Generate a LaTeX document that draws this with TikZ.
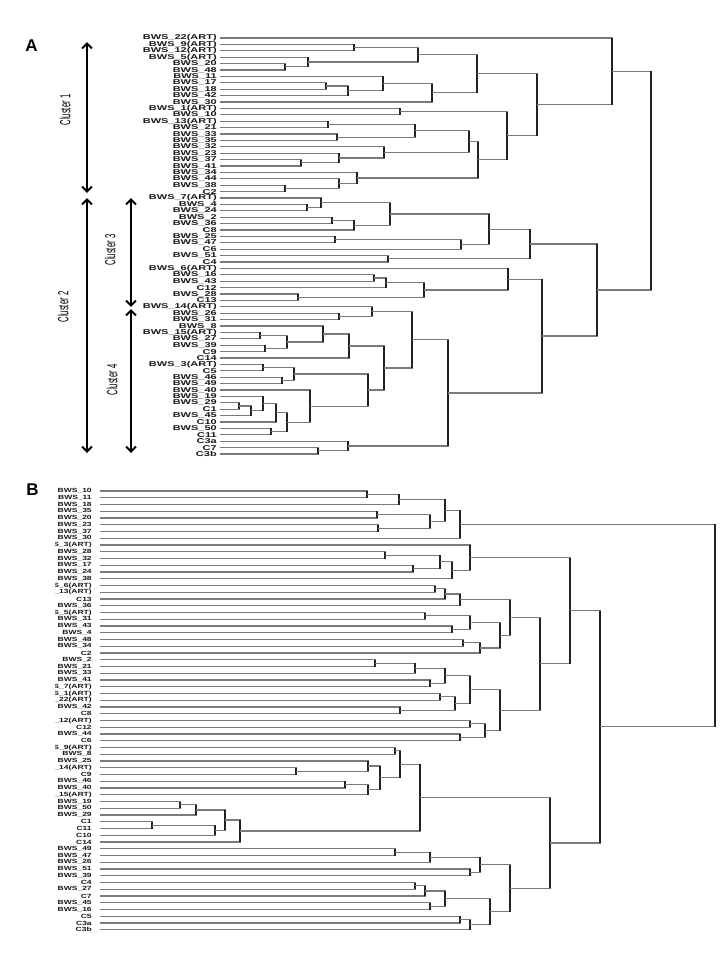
\documentclass[tikz,border=0pt]{standalone}
\usepackage{fontspec}
\setmainfont{Liberation Sans}
\usetikzlibrary{arrows.meta, calc}
\definecolor{dendLine}{HTML}{7A7A7A}
\definecolor{dendJoin}{HTML}{222222}
\tikzset{
  dendfig/.style={x=0.75pt, y=-0.75pt},
  link/.style={draw=dendLine, line width=0.9pt},
  joint/.style={draw=dendJoin, line width=0.9pt},
  leafA/.style={anchor=east, inner sep=0pt, text=black!90,
    font=\fontsize{5.25}{5.25}\selectfont\bfseries},
  leafB/.style={leafA, font=\fontsize{4.5}{4.5}\selectfont\bfseries},
  clarrow/.style={line width=1.5pt,
    {Straight Barb[length=3.8pt, width=7.5pt]}-{Straight Barb[length=3.8pt, width=7.5pt]}},
  cltext/.style={rotate=90, inner sep=0pt, font=\fontsize{5.8}{5.8}\selectfont},
  panel/.style={inner sep=0pt, font=\fontsize{12.75}{12.75}\selectfont\bfseries},
}
% one join of the tree: name, height (px), two children
\newcommand{\merge}[4]{%
  \path let \p1=(#3), \p2=(#4) in coordinate (#1) at ({#2*0.75pt}, {0.5*(\y1+\y2)});
  \draw[link] (#3) -| (#1) |- (#4);
  \draw[joint] (#3 -| #1) -- (#4 -| #1);
}

\begin{document}
\begin{tikzpicture}[dendfig]
  \useasboundingbox[fill=white] (0,0) rectangle (720,960);

  % panel A
  \node[panel] (PanelA) at (31.5,46) {A};
  \foreach \txt [count=\i] in {BWS\_22(ART), BWS\_9(ART), BWS\_12(ART), BWS\_5(ART),
      BWS\_20, BWS\_48, BWS\_11, BWS\_17, BWS\_18, BWS\_42, BWS\_30, BWS\_1(ART),
      BWS\_10, BWS\_13(ART), BWS\_21, BWS\_33, BWS\_35, BWS\_32, BWS\_23, BWS\_37,
      BWS\_41, BWS\_34, BWS\_44, BWS\_38, C2, BWS\_7(ART), BWS\_4, BWS\_24, BWS\_2,
      BWS\_36, C8, BWS\_25, BWS\_47, C6, BWS\_51, C4, BWS\_6(ART), BWS\_16, BWS\_43,
      C12, BWS\_28, C13, BWS\_14(ART), BWS\_26, BWS\_31, BWS\_8, BWS\_15(ART),
      BWS\_27, BWS\_39, C9, C14, BWS\_3(ART), C5, BWS\_46, BWS\_49, BWS\_40, BWS\_19,
      BWS\_29, C1, BWS\_45, C10, BWS\_50, C11, C3a, C7, C3b} {
    \coordinate (a\i) at (220, {38+6.4*(\i-1)});
    \node[leafA] (la\i) at (217, {38+6.4*(\i-1)}) {\scalebox{1.57}[1]{\txt}};
  }

  % cluster 1
  \merge{aA}{354}{a2}{a3}
  \merge{aB}{285}{a5}{a6}
  \merge{aC}{308}{a4}{aB}
  \merge{aD}{418}{aA}{aC}
  \merge{aE}{326}{a8}{a9}
  \merge{aF}{348}{aE}{a10}
  \merge{aG}{383}{a7}{aF}
  \merge{aH}{432}{aG}{a11}
  \merge{aI}{477}{aD}{aH}
  \merge{aJ}{400}{a12}{a13}
  \merge{aK}{328}{a14}{a15}
  \merge{aL}{337}{a16}{a17}
  \merge{aM}{415}{aK}{aL}
  \merge{aN}{301}{a20}{a21}
  \merge{aO}{339}{a19}{aN}
  \merge{aP}{384}{a18}{aO}
  \merge{aQ}{469}{aM}{aP}
  \merge{aR}{285}{a24}{a25}
  \merge{aS}{339}{a23}{aR}
  \merge{aT}{357}{a22}{aS}
  \merge{aU}{478}{aQ}{aT}
  \merge{aV}{507}{aJ}{aU}
  \merge{aW}{537}{aI}{aV}
  \merge{aX}{612}{a1}{aW}
  % cluster 2
  \merge{b1}{307}{a27}{a28}
  \merge{b2}{321}{a26}{b1}
  \merge{b3}{332}{a29}{a30}
  \merge{b4}{354}{b3}{a31}
  \merge{b5}{390}{b2}{b4}
  \merge{b6}{335}{a32}{a33}
  \merge{b7}{461}{b6}{a34}
  \merge{b8}{489}{b5}{b7}
  \merge{b9}{388}{a35}{a36}
  \merge{b10}{530}{b8}{b9}
  \merge{b11}{374}{a38}{a39}
  \merge{b12}{386}{b11}{a40}
  \merge{b13}{298}{a41}{a42}
  \merge{b14}{424}{b12}{b13}
  \merge{b15}{508}{a37}{b14}
  \merge{b16}{339}{a44}{a45}
  \merge{b17}{372}{a43}{b16}
  \merge{b18}{260}{a47}{a48}
  \merge{b19}{265}{a49}{a50}
  \merge{b20}{287}{b18}{b19}
  \merge{b21}{323}{a46}{b20}
  \merge{b22}{349}{b21}{a51}
  \merge{b23}{263}{a52}{a53}
  \merge{b24}{282}{a54}{a55}
  \merge{b25}{294}{b23}{b24}
  \merge{b26}{239}{a58}{a59}
  \merge{b27}{251}{b26}{a60}
  \merge{b28}{263}{a57}{b27}
  \merge{b29}{276}{b28}{a61}
  \merge{b30}{271}{a62}{a63}
  \merge{b31}{287}{b29}{b30}
  \merge{b32}{310}{a56}{b31}
  \merge{b33}{368}{b25}{b32}
  \merge{b34}{384}{b22}{b33}
  \merge{b35}{412}{b17}{b34}
  \merge{b36}{318}{a65}{a66}
  \merge{b37}{348}{a64}{b36}
  \merge{b38}{448}{b35}{b37}
  \merge{b39}{542}{b15}{b38}
  \merge{b40}{597}{b10}{b39}
  \merge{RootA}{651}{aX}{b40}

  % cluster bars
  \coordinate (Cl1Top) at (87,42);
  \coordinate (Cl1Bot) at (87,193);
  \coordinate (Cl2Top) at (87,198);
  \coordinate (Cl2Bot) at (87,453);
  \coordinate (Cl3Top) at (131,198);
  \coordinate (Cl3Bot) at (131,307);
  \coordinate (Cl4Top) at (131,309);
  \coordinate (Cl4Bot) at (131,453);
  \draw[clarrow] (Cl1Top) -- (Cl1Bot);
  \draw[clarrow] (Cl2Top) -- (Cl2Bot);
  \draw[clarrow] (Cl3Top) -- (Cl3Bot);
  \draw[clarrow] (Cl4Top) -- (Cl4Bot);
  \node[cltext] (Cluster1) at (65,110) {\scalebox{1}[1.9]{Cluster 1}};
  \node[cltext] (Cluster2) at (63,307) {\scalebox{1}[1.9]{Cluster 2}};
  \node[cltext] (Cluster3) at (110,250) {\scalebox{1}[1.9]{Cluster 3}};
  \node[cltext] (Cluster4) at (112,380) {\scalebox{1}[1.9]{Cluster 4}};

  % panel B
  \node[panel] (PanelB) at (32.5,490) {B};
  \begin{scope}
    \clip (55,480) rectangle (100,940);
    \foreach \txt [count=\i] in {BWS\_10, BWS\_11, BWS\_18, BWS\_35, BWS\_20, BWS\_23,
        BWS\_37, BWS\_30, BWS\_3(ART), BWS\_28, BWS\_32, BWS\_17, BWS\_24, BWS\_38,
        BWS\_6(ART), BWS\_13(ART), C13, BWS\_36, BWS\_5(ART), BWS\_31, BWS\_43, BWS\_4,
        BWS\_48, BWS\_34, C2, BWS\_2, BWS\_21, BWS\_33, BWS\_41, BWS\_7(ART), BWS\_1(ART),
        BWS\_22(ART), BWS\_42, C8, BWS\_12(ART), C12, BWS\_44, C6, BWS\_9(ART), BWS\_8,
        BWS\_25, BWS\_14(ART), C9, BWS\_46, BWS\_40, BWS\_15(ART), BWS\_19, BWS\_50,
        BWS\_29, C1, C11, C10, C14, BWS\_49, BWS\_47, BWS\_26, BWS\_51, BWS\_39, C4,
        BWS\_27, C7, BWS\_45, BWS\_16, C5, C3a, C3b} {
      \node[leafB] (lb\i) at (92, {491+6.75*(\i-1)}) {\scalebox{1.42}[1]{\txt}};
    }
  \end{scope}
  \foreach \i in {1,...,66} {
    \coordinate (p\i) at (100, {491+6.75*(\i-1)});
  }

  % upper part of B
  \merge{q1}{367}{p1}{p2}
  \merge{q2}{399}{q1}{p3}
  \merge{q3}{377}{p4}{p5}
  \merge{q4}{378}{p6}{p7}
  \merge{q5}{430}{q3}{q4}
  \merge{q6}{445}{q2}{q5}
  \merge{q7}{460}{q6}{p8}
  \merge{q8}{385}{p10}{p11}
  \merge{q9}{413}{p12}{p13}
  \merge{q10}{440}{q8}{q9}
  \merge{q11}{452}{q10}{p14}
  \merge{q12}{470}{p9}{q11}
  \merge{q14}{435}{p15}{p16}
  \merge{q15}{445}{q14}{p17}
  \merge{q16}{460}{q15}{p18}
  \merge{q17}{425}{p19}{p20}
  \merge{q18}{452}{p21}{p22}
  \merge{q19}{470}{q17}{q18}
  \merge{q20}{463}{p23}{p24}
  \merge{q21}{480}{q20}{p25}
  \merge{q22}{500}{q19}{q21}
  \merge{q23}{510}{q16}{q22}
  \merge{q24}{375}{p26}{p27}
  \merge{q25}{415}{q24}{p28}
  \merge{q26}{430}{p29}{p30}
  \merge{q27}{445}{q25}{q26}
  \merge{q28}{440}{p31}{p32}
  \merge{q29}{400}{p33}{p34}
  \merge{q30}{455}{q28}{q29}
  \merge{q31}{470}{q27}{q30}
  \merge{q32}{470}{p35}{p36}
  \merge{q33}{460}{p37}{p38}
  \merge{q34}{485}{q32}{q33}
  \merge{q35}{500}{q31}{q34}
  \merge{q36}{540}{q23}{q35}
  \merge{q13}{570}{q12}{q36}
  % lower part of B
  \merge{q37}{395}{p39}{p40}
  \merge{q38}{296}{p42}{p43}
  \merge{q39}{368}{p41}{q38}
  \merge{q40}{345}{p44}{p45}
  \merge{q41}{368}{p46}{q40}
  \merge{q42}{380}{q39}{q41}
  \merge{q43}{400}{q37}{q42}
  \merge{q44}{180}{p47}{p48}
  \merge{q45}{196}{q44}{p49}
  \merge{q46}{152}{p50}{p51}
  \merge{q47}{215}{q46}{p52}
  \merge{q48}{225}{q45}{q47}
  \merge{q49}{240}{q48}{p53}
  \merge{q50}{420}{q43}{q49}
  \merge{q51}{395}{p54}{p55}
  \merge{q52}{430}{q51}{p56}
  \merge{q53}{470}{p57}{p58}
  \merge{q54}{480}{q52}{q53}
  \merge{q55}{415}{p59}{p60}
  \merge{q56}{425}{p61}{q55}
  \merge{q57}{430}{p62}{p63}
  \merge{q58}{445}{q56}{q57}
  \merge{q59}{460}{p64}{p65}
  \merge{q60}{470}{q59}{p66}
  \merge{q61}{490}{q58}{q60}
  \merge{q62}{510}{q54}{q61}
  \merge{q63}{550}{q50}{q62}
  \merge{q64}{600}{q13}{q63}
  \merge{RootB}{715}{q7}{q64}
\end{tikzpicture}
\end{document}
